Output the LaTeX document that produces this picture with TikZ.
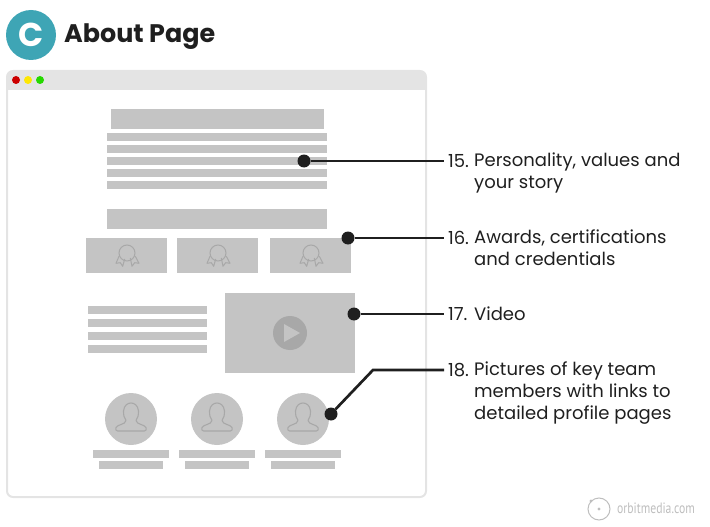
\documentclass[tikz,border=0pt]{standalone}
\usepackage{fontspec}
\setmainfont{Poppins}
\newfontfamily\logofont{PT Sans}
\usepackage{tikz}
\usetikzlibrary{shapes}
\usetikzlibrary{arrows}
\usetikzlibrary{calc}
\definecolor{wiregray}{RGB}{196,196,196}
\definecolor{framegray}{RGB}{228,228,228}
\definecolor{icongray}{RGB}{168,168,168}
\definecolor{inkblack}{RGB}{31,31,31}
\definecolor{badgeteal}{RGB}{62,165,181}
\definecolor{logogray}{RGB}{190,190,190}
\tikzset{
  leader/.style={draw=inkblack, line width=2.7pt},
  dotmark/.style={circle, fill=inkblack, minimum size=13pt, inner sep=0pt, outer sep=0pt},
  numlabel/.style={anchor=west, inner sep=4pt, outer sep=0pt, text=inkblack, font=\fontsize{18}{22}\selectfont},
  itemlabel/.style={anchor=north west, inner sep=0pt, align=left, text=inkblack, font=\fontsize{18}{22}\selectfont},
  awardicon/.pic={
    \draw[icongray, line width=1pt] (0,0) circle (8);
    \draw[icongray, line width=1pt, line join=round] (-8,3.3) -- (-11,10.3) -- (-6.7,9.7) -- (-4.3,13.3) -- (-2.3,6);
    \draw[icongray, line width=1pt, line join=round] (3.3,5) -- (5,13.3) -- (7.7,9.7) -- (12,10.3) -- (8.3,3.3);
  },
  personicon/.pic={
    \draw[icongray, line width=1.1pt, line join=round] (-13.5,12) .. controls (-15.5,12) and (-15.5,10) .. (-15,8.5) .. controls (-13,5) and (-6,6) .. (-5,1.5) .. controls (-7,-1) and (-7.5,-4) .. (-7.5,-8) .. controls (-7,-14) and (-3,-16) .. (0,-16) .. controls (3,-16) and (7,-14) .. (7.5,-8) .. controls (7.5,-4) and (7,-1) .. (5,1.5) .. controls (6,6) and (13,5) .. (15,8.5) .. controls (15.5,10) and (15.5,12) .. (13.5,12) -- cycle;
  }
}
\begin{document}
\begin{tikzpicture}[x=1pt,y=-1pt]
\useasboundingbox (0,0) rectangle (710,527);
% heading
\node[circle, fill=badgeteal, minimum size=50pt, inner sep=0pt] (badge) at (31,35) {};
\node[text=white, font=\fontsize{33}{33}\selectfont\bfseries] (badgeletter) at (badge) {C};
\node[anchor=west, inner sep=0pt, text=inkblack, font=\fontsize{25.4}{30}\selectfont\bfseries] (heading) at (64,36.5) {About Page};
% browser window
\fill[framegray, rounded corners=6pt] (7,71) -- (426,71) -- (426,90) -- (7,90) -- cycle;
\draw[framegray, line width=2pt, rounded corners=6pt] (7,71) rectangle (426,497);
\fill[framegray] (7,80) rectangle (426,90);
\fill[red!80!black] (16,80) circle (4);
\fill[yellow!90!orange] (28,80) circle (4);
\fill[green!70!olive] (40,80) circle (4);
% story block
\fill[wiregray] (111,109) rectangle (324,129);
\fill[wiregray] (107,133) rectangle (327,141);
\fill[wiregray] (107,145) rectangle (327,153);
\fill[wiregray] (107,157) rectangle (327,165);
\fill[wiregray] (107,169) rectangle (327,177);
\fill[wiregray] (107,181) rectangle (327,189);
% awards
\fill[wiregray] (107,209) rectangle (327,229);
\fill[wiregray] (86,238) rectangle (167,273);
\fill[wiregray] (177,238) rectangle (258,273);
\fill[wiregray] (270,238) rectangle (351,273);
\pic at (127,253) {awardicon};
\pic at (218,253) {awardicon};
\pic at (311,253) {awardicon};
% video
\fill[wiregray] (88,306) rectangle (207,314);
\fill[wiregray] (88,319) rectangle (207,327);
\fill[wiregray] (88,332) rectangle (207,340);
\fill[wiregray] (88,345) rectangle (207,353);
\fill[wiregray] (225,293) rectangle (355,373);
\fill[icongray] (290,333) circle (17);
\fill[wiregray] (284,324) -- (300,333) -- (284,342) -- cycle;
% team
\fill[wiregray] (131,419) circle (26);
\fill[wiregray] (217,419) circle (26);
\fill[wiregray] (303,419) circle (26);
\pic at (131,419) {personicon};
\pic at (217,419) {personicon};
\pic at (303,419) {personicon};
\fill[wiregray] (93,450) rectangle (169,458);
\fill[wiregray] (99,461) rectangle (163,469);
\fill[wiregray] (179,450) rectangle (255,458);
\fill[wiregray] (185,461) rectangle (249,469);
\fill[wiregray] (265,450) rectangle (341,458);
\fill[wiregray] (271,461) rectangle (335,469);
% callouts
\node[dotmark] (dot15) at (304,161) {};
\node[dotmark] (dot16) at (348,238) {};
\node[dotmark] (dot17) at (354,314) {};
\node[dotmark] (dot18) at (331,414) {};
\coordinate (bend18) at (373,370);
\node[numlabel] (num15) at (444,161) {15.};
\node[numlabel] (num16) at (444,238) {16.};
\node[numlabel] (num17) at (444,314) {17.};
\node[numlabel] (num18) at (444,370) {18.};
\node[itemlabel] (item15) at (474,152.5) {Personality, values and\\your story};
\node[itemlabel] (item16) at (474,229.5) {Awards, certifications\\and credentials};
\node[itemlabel] (item17) at (474,306.5) {Video};
\node[itemlabel] (item18) at (474,361.5) {Pictures of key team\\members with links to\\detailed profile pages};
\draw[leader] (dot15) -- (num15);
\draw[leader] (dot16) -- (num16);
\draw[leader] (dot17) -- (num17);
\draw[leader] (dot18) -- (bend18) -- (num18);
% logo
\draw[logogray, line width=1pt] (599,509) circle (11);
\fill[logogray] (599,509) circle (1.7);
\fill[logogray] (591,501) circle (1.7);
\node[anchor=west, inner sep=0pt, text=logogray, font=\logofont\fontsize{15}{15}\selectfont, xscale=.78] (logo) at (617,508) {orbitmedia.com};
\end{tikzpicture}
\end{document}
